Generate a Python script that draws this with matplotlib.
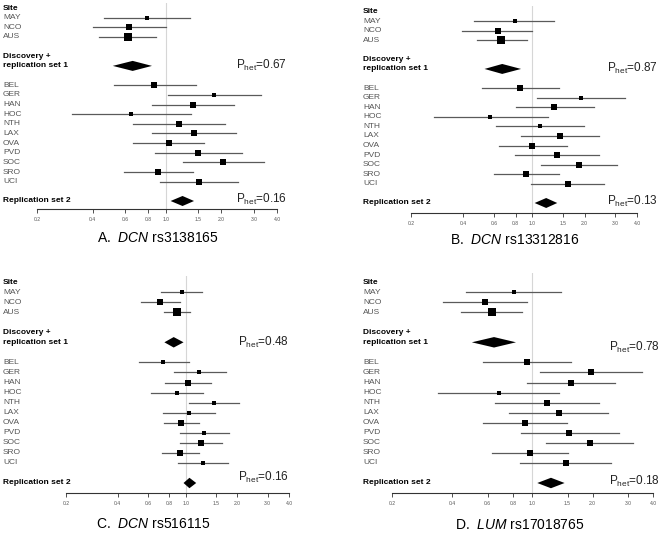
import matplotlib
matplotlib.use('Agg')
import matplotlib.pyplot as plt
from matplotlib.transforms import blended_transform_factory

plt.rcParams['font.family'] = 'Liberation Sans'
plt.rcParams['mathtext.fontset'] = 'custom'
plt.rcParams['mathtext.rm'] = 'Liberation Sans'
plt.rcParams['mathtext.it'] = 'Liberation Sans:italic'

# site names (discovery + replication set 1, then replication set 2)
sites = ['MAY', 'NCO', 'AUS',
         'BEL', 'GER', 'HAN', 'HOC', 'NTH', 'LAX', 'OVA', 'PVD', 'SOC', 'SRO', 'UCI']
ticks = [0.2, 0.4, 0.6, 0.8, 1.0, 1.5, 2.0, 3.0, 4.0]
tick_labels = ['0.2', '0.4', '0.6', '0.8', '1.0', '1.5', '2.0', '3.0', '4.0']

# A. DCN rs3138165
or_a = [0.79, 0.63, 0.62, 0.865, 1.83, 1.41, 0.65, 1.18, 1.42, 1.04, 1.50, 2.03, 0.91, 1.51]
lo_a = [0.46, 0.40, 0.435, 0.52, 1.02, 0.84, 0.31, 0.66, 0.84, 0.665, 0.87, 1.23, 0.59, 0.93]
hi_a = [1.35, 1.00, 0.88, 1.46, 3.26, 2.35, 1.36, 2.09, 2.39, 1.61, 2.57, 3.39, 1.40, 2.47]
w_a = [4.5, 6, 7, 5.5, 4, 5.5, 3, 5, 5, 6, 5, 6, 6.5, 5.5]
meta1_a = [0.515, 0.66, 0.84]
meta2_a = [1.06, 1.23, 1.42]
phet_a = ['0.67', '0.16']

# B. DCN rs13312816
or_b = [0.79, 0.63, 0.66, 0.85, 1.90, 1.34, 0.57, 1.10, 1.44, 0.99, 1.39, 1.85, 0.92, 1.60]
lo_b = [0.46, 0.395, 0.48, 0.51, 1.06, 0.80, 0.27, 0.62, 0.86, 0.64, 0.79, 1.12, 0.60, 0.98]
hi_b = [1.34, 1.00, 0.93, 1.42, 3.41, 2.25, 1.23, 1.97, 2.42, 1.58, 2.42, 3.06, 1.42, 2.59]
w_b = [4, 5.5, 7, 5, 4, 5.5, 3, 4.5, 5, 5.5, 5, 5, 6, 5.5]
meta1_b = [0.53, 0.67, 0.86]
meta2_b = [1.03, 1.20, 1.39]
phet_b = ['0.87', '0.13']

# C. DCN rs516115
or_c = [0.95, 0.71, 0.89, 0.74, 1.20, 1.03, 0.89, 1.46, 1.05, 0.94, 1.28, 1.22, 0.93, 1.26]
lo_c = [0.72, 0.545, 0.75, 0.53, 0.85, 0.76, 0.63, 1.04, 0.74, 0.75, 0.92, 0.92, 0.73, 0.90]
hi_c = [1.25, 0.93, 1.06, 1.05, 1.71, 1.40, 1.26, 2.04, 1.49, 1.20, 1.79, 1.63, 1.19, 1.77]
w_c = [4.5, 5, 8, 4, 4, 5, 4.5, 4, 4, 6, 4.5, 5, 6, 4.5]
meta1_c = [0.75, 0.85, 0.97]
meta2_c = [0.97, 1.05, 1.15]
phet_c = ['0.48', '0.16']

# D. LUM rs17018765
or_d = [0.81, 0.58, 0.63, 0.94, 1.97, 1.56, 0.68, 1.18, 1.36, 0.92, 1.53, 1.93, 0.97, 1.47]
lo_d = [0.47, 0.36, 0.44, 0.57, 1.09, 0.94, 0.34, 0.655, 0.77, 0.57, 0.88, 1.17, 0.63, 0.87]
hi_d = [1.39, 0.94, 0.89, 1.56, 3.52, 2.59, 1.36, 2.14, 2.38, 1.49, 2.72, 3.19, 1.51, 2.46]
w_d = [4.5, 6, 7.5, 5.5, 5, 5.5, 3.5, 5.5, 5, 6, 5, 5.5, 6.5, 5]
meta1_d = [0.50, 0.645, 0.83]
meta2_d = [1.06, 1.24, 1.45]
phet_d = ['0.78', '0.18']

W, H = 661, 533
fig = plt.figure(figsize=(W / 100, H / 100), dpi=100)

site_rows = [1, 2, 3, 8, 9, 10, 11, 12, 13, 14, 15, 16, 17, 18]
line_col = '#5a5a5a'
lab_col = '#555555'


def forest(left, right, row0, row20, axis_y, top_y, lab_x,
           est, lo, hi, w, m1, m2, phet, phet_x, phet_rows, title, title_xy):
    s = (row20 - row0) / 20.0
    ax = fig.add_axes([left / W, 1 - axis_y / H, (right - left) / W, (axis_y - top_y) / H])
    ax.set_xscale('log')
    ax.set_xlim(0.2, 4.0)
    ax.set_ylim((axis_y - row0) / s, (top_y - row0) / s)
    ax.patch.set_alpha(0)
    for sp in ['top', 'right', 'left']:
        ax.spines[sp].set_visible(False)
    ax.spines['bottom'].set_color('#333333')
    ax.spines['bottom'].set_linewidth(0.8)
    ax.set_yticks([])
    ax.set_xticks(ticks)
    ax.set_xticklabels(tick_labels)
    ax.minorticks_off()
    ax.tick_params(axis='x', length=3, width=0.6, pad=2.5, labelsize=3.6,
                   colors='#333333', labelcolor='#555555')
    ax.axvline(1.0, color='#d6d6d6', lw=0.8, zorder=0)

    for r, e, l, h, ww in zip(site_rows, est, lo, hi, w):
        ax.plot([l, h], [r, r], color=line_col, lw=0.9, zorder=2)
        ax.plot(e, r, 's', color='black', ms=ww * 0.75, mec='black', mew=0, zorder=3)

    for (l, e, h), r in zip([m1, m2], [6, 20]):
        ax.fill([l, e, h, e], [r, r - 0.52, r, r + 0.52], color='black', lw=0, zorder=3)

    tr = blended_transform_factory(fig.transFigure, ax.transData)
    x0 = lab_x / W
    ax.text(x0, 0, 'Site', transform=tr, fontsize=6, fontweight='bold', va='center')
    for r, name in zip(site_rows, sites):
        ax.text(x0, r, name, transform=tr, fontsize=6, color=lab_col, va='center')
    ax.text(x0, 5.05, 'Discovery +', transform=tr, fontsize=6, fontweight='bold', va='center')
    ax.text(x0, 6, 'replication set 1', transform=tr, fontsize=6, fontweight='bold', va='center')
    ax.text(x0, 20, 'Replication set 2', transform=tr, fontsize=6, fontweight='bold', va='center')

    for p, r in zip(phet, phet_rows):
        ax.text(phet_x / W, r, r'P$_{\rm het}$=' + p, transform=tr, fontsize=8.5,
                color='#222222', va='center')

    fig.text(title_xy[0] / W, 1 - title_xy[1] / H, title, fontsize=10,
             ha='center', va='center')


forest(37, 277, 8, 201, 209, 3, 3, or_a, lo_a, hi_a, w_a, meta1_a, meta2_a,
       phet_a, 236, [6, 19.8], r'A.  $\mathit{DCN}$ rs3138165', (158, 238))
forest(411, 637, 11.5, 203, 213, 6, 363, or_b, lo_b, hi_b, w_b, meta1_b, meta2_b,
       phet_b, 607, [6, 19.8], r'B.  $\mathit{DCN}$ rs13312816', (515, 240))
forest(66, 289, 282, 483, 493, 276, 3, or_c, lo_c, hi_c, w_c, meta1_c, meta2_c,
       phet_c, 238, [6, 19.4], r'C.  $\mathit{DCN}$ rs516115', (153, 524))
forest(392, 653, 282, 483, 493, 273, 363, or_d, lo_d, hi_d, w_d, meta1_d, meta2_d,
       phet_d, 609, [6.5, 19.8], r'D.  $\mathit{LUM}$ rs17018765', (520, 525))

fig.savefig('out.png', dpi=100)
